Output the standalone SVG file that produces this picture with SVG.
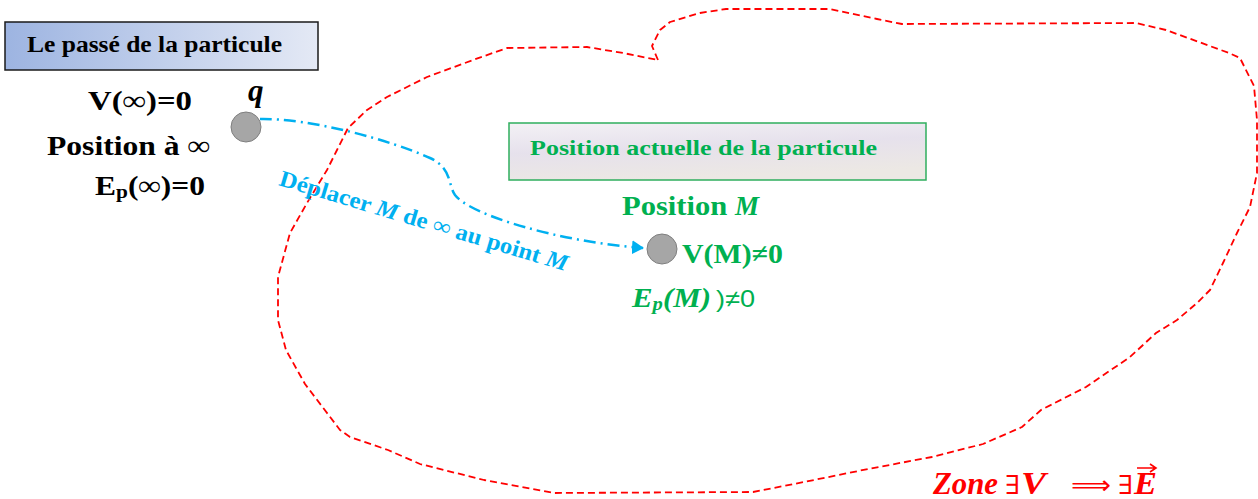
<svg xmlns="http://www.w3.org/2000/svg" width="1258" height="499" viewBox="0 0 1258 499">
<defs>
<linearGradient id="gBlue" x1="0" y1="0" x2="1" y2="0">
<stop offset="0" stop-color="#9db4e1"/>
<stop offset="1" stop-color="#e4e9f5"/>
</linearGradient>
<linearGradient id="gLav" x1="0" y1="0" x2="0.3" y2="1">
<stop offset="0" stop-color="#f3f1f5"/>
<stop offset="0.5" stop-color="#e6e1ec"/>
<stop offset="1" stop-color="#ece8e4"/>
</linearGradient>
<marker id="arrBlue" markerWidth="12" markerHeight="14" refX="11" refY="7" orient="auto" markerUnits="userSpaceOnUse">
<path d="M0,0 L12,7 L0,14 Z" fill="#00b0f0"/>
</marker>
<style>
.serifB{font-family:"Liberation Serif","DejaVu Serif",serif;font-weight:bold;}
.blk{fill:#000000;}
.grn{fill:#00b050;}
.red{fill:#ff0000;}
.blue{fill:#00b0f0;}
.ball{fill:#a6a6a6;stroke:#7f7f7f;stroke-width:1;}
</style>
</defs>
<rect width="1258" height="499" fill="#ffffff"/>

<g id="zone">
<path d="M658,60 L652,46 L660,30 L670,22 L700,13 L726,9 L830,9 L877,19 L902,24 L1136,23 L1166,30 L1229,53 L1240,58 L1254,86 L1257,120 L1257,173 L1250,207 L1237,233 L1223,263 L1210,290 L1197,303 L1177,320 L1156,333 L1130,357 L1086,387 L1041,410 L1022,427 L983,444 L932,457 L868,469 L804,482 L753,492 L554,493 L484,480 L420,464 L388,450 L350,437 L340,430 L305,384 L286,350 L278,320 L278,277 L290,233 L307,203 L327,170 L337,150 L348,128 L367,110 L387,97 L427,77 L473,60 L507,48 L587,47 L623,53 Z" fill="none" stroke="#ff0000" stroke-width="1.8" stroke-dasharray="7 4" stroke-linejoin="round"/>
<text class="red" x="933" y="494" font-family="Liberation Serif, serif" font-size="31" font-weight="bold" font-style="italic" textLength="65" lengthAdjust="spacingAndGlyphs">Zone</text>
<text class="red" x="1005" y="494" font-family="DejaVu Serif, serif" font-size="26" textLength="15" lengthAdjust="spacingAndGlyphs">∃</text>
<text class="red" x="1021" y="494" font-family="Liberation Serif, serif" font-size="31" font-weight="bold" font-style="italic" textLength="25" lengthAdjust="spacingAndGlyphs">V</text>
<text class="red" x="1071" y="494" font-family="DejaVu Sans, sans-serif" font-size="26" textLength="40" lengthAdjust="spacingAndGlyphs">⟹</text>
<text class="red" x="1118" y="494" font-family="DejaVu Serif, serif" font-size="26" textLength="15" lengthAdjust="spacingAndGlyphs">∃</text>
<text class="red" x="1134" y="494" font-family="Liberation Serif, serif" font-size="31" font-weight="bold" font-style="italic" textLength="23" lengthAdjust="spacingAndGlyphs">E</text>
<path d="M1137,468 L1155,468 M1150,464 L1156,468 L1150,472" fill="none" stroke="#ff0000" stroke-width="1.6"/>
</g>

<g id="past-box">
<rect x="5" y="22" width="313" height="48" fill="url(#gBlue)" stroke="#1a1a1a" stroke-width="1.5"/>
<text class="serifB blk" x="27" y="52" font-size="24" textLength="255" lengthAdjust="spacingAndGlyphs">Le passé de la particule</text>
</g>

<g id="past-values">
<text class="serifB blk" x="88" y="110" font-size="28" textLength="104" lengthAdjust="spacingAndGlyphs">V(∞)=0</text>
<text class="serifB blk" x="47" y="155" font-size="28" textLength="163" lengthAdjust="spacingAndGlyphs">Position à ∞</text>
<text class="serifB blk" x="95" y="195" font-size="28" textLength="110" lengthAdjust="spacingAndGlyphs">E<tspan font-size="19" dy="3">p</tspan><tspan dy="-3">(∞)=0</tspan></text>
</g>

<g id="particle-q">
<circle class="ball" cx="246" cy="127" r="15"/>
<text class="blk" x="248" y="101" font-family="Liberation Serif, serif" font-size="31" font-weight="bold" font-style="italic">q</text>
</g>

<g id="present-box">
<rect x="509" y="123" width="417" height="57" fill="url(#gLav)" stroke="#2fae5e" stroke-width="1.5"/>
<text class="serifB grn" x="530" y="155" font-size="22" textLength="347" lengthAdjust="spacingAndGlyphs">Position actuelle de la particule</text>
</g>

<g id="particle-M">
<text class="serifB grn" x="622" y="215" font-size="27"><tspan textLength="113" lengthAdjust="spacingAndGlyphs">Position </tspan><tspan font-style="italic">M</tspan></text>
<circle class="ball" cx="662" cy="249" r="15"/>
<text class="serifB grn" x="682" y="263" font-size="28" textLength="101" lengthAdjust="spacingAndGlyphs">V(M)≠0</text>
<text class="grn" x="632" y="307" font-family="Liberation Serif, serif" font-size="27" font-weight="bold" font-style="italic" textLength="79" lengthAdjust="spacingAndGlyphs">E<tspan font-size="18" dy="3">p</tspan><tspan dy="-3">(M)</tspan></text>
<text class="grn" x="716" y="307" font-family="Liberation Sans, sans-serif" font-size="24" textLength="39" lengthAdjust="spacingAndGlyphs">)≠0</text>
</g>

<g id="connectors">
<path d="M260,119 C310,118 390,140 430,158 C452,168 448,185 455,195 C470,215 560,242 643,248" fill="none" stroke="#00b0f0" stroke-width="2.5" stroke-dasharray="12 5 2 5" marker-end="url(#arrBlue)"/>
<text class="blue" transform="translate(278,185) rotate(16.7)" font-family="Liberation Serif, serif" font-size="23" font-weight="bold" textLength="300" lengthAdjust="spacingAndGlyphs">Déplacer <tspan font-style="italic">M</tspan> de ∞ au point <tspan font-style="italic">M</tspan></text>
</g>
</svg>
